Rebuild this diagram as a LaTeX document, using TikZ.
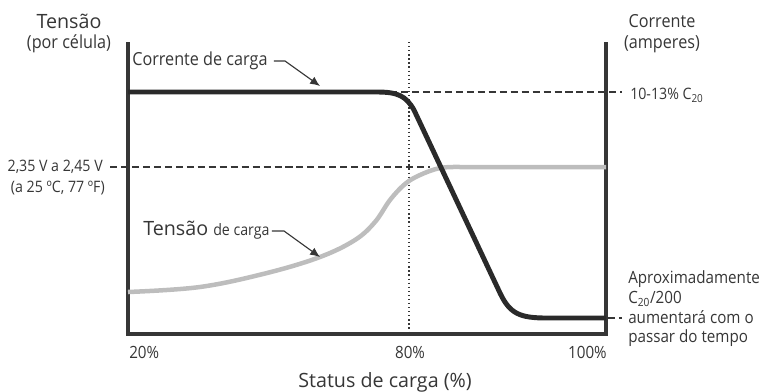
\documentclass[tikz,border=0pt]{standalone}
\usepackage{fontspec}
\setmainfont{Open Sans}[FakeStretch=0.9]
\newfontfamily\widefont{Open Sans}
\usetikzlibrary{arrows.meta,positioning}
\definecolor{ink}{HTML}{363636}
\definecolor{currline}{HTML}{2A2A2A}
\definecolor{voltline}{HTML}{BDBDBD}
\tikzstyle{axis} = [draw=ink, line width=2.4pt]
\tikzstyle{guide} = [draw=ink, line width=1pt, dash pattern=on 5pt off 2.8pt]
\tikzstyle{pointer} = [draw=ink, line width=0.8pt, -{Latex[length=7pt,width=6pt]}]
\tikzstyle{small} = [text=ink, inner sep=0pt, font=\fontsize{11.2}{13.5}\selectfont]
\tikzstyle{tick} = [text=ink, inner sep=0pt, font=\fontsize{12}{14}\selectfont]
\tikzstyle{big} = [text=ink, inner sep=0pt, font=\fontsize{12.8}{15}\selectfont]

\begin{document}
\begin{tikzpicture}[x=0.025cm, y=-0.025cm]
\useasboundingbox (0,0) rectangle (759,391);

%% Axis titles
\node [big] (tensao) at (69,21) {\widefont\fontsize{14}{16}\selectfont Tensão};
\node [big] (porcelula) at (69,44) {(por célula)};
\node [big] (corrente) at (662,21) {Corrente};
\node [big] (amperes) at (662,44) {(amperes)};
\node [big] (status) at (385,382) {\widefont\fontsize{14}{16}\selectfont Status de carga (\%)};

%% Tick labels
\node [tick, anchor=west] (p20) at (129,352) {20\%};
\node [tick] (p80) at (410,352) {80\%};
\node [tick, anchor=east] (p100) at (607,352) {100\%};

%% Side labels
\node [small, anchor=east] (vlim) at (103,167) {2,35 V a 2,45 V};
\node [small, anchor=east] (vtemp) at (105,188) {(a 25 ºC, 77 ºF)};
\node [small, anchor=west] (ihigh) at (630,95) {10-13\% C\textsubscript{20}};
\node [tick, anchor=west, align=left] (ilow) at (628,309)
  {Aproximadamente\\C\textsubscript{20}/200\\aumentará com o\\passar do tempo};

%% Guide lines
\draw [ink, line width=0.9pt, dotted] (409,42) -- (409,334);
\draw [guide] (390,92) -- (622,92);
\draw [guide] (110,167) -- (430,167);
\draw [guide] (608,318) -- (622,318);

%% Axes
\draw [axis] (128,42) -- (128,334) -- (606,334) -- (606,42);

%% Charge voltage
\draw [voltline, line width=3.2pt] plot [smooth, tension=0.6] coordinates
  {(128,292) (200,287) (267,273) (320,257) (355,240) (375,222) (390,200)
   (405,184) (420,175) (440,168) (460,167)} -- (606,167);

%% Charge current
\draw [currline, line width=3.5pt] (128,92) -- (377,92)
  .. controls (398,92) and (406,96) .. (414,110) -- (500,293)
  .. controls (510,314) and (520,318) .. (547,318) -- (606,318);

%% Curve labels with pointers
\node [big, anchor=west] (icarga) at (132,61) {Corrente de carga};
\coordinate (ikink) at (285,61);
\coordinate (itip) at (320,86);
\draw [pointer] (icarga.east) ++(6,0) -- (ikink) -- (itip);

\node [small, anchor=west] (vcarga) at (143,230)
  {\widefont\fontsize{14}{16}\selectfont Tensão \normalfont\fontsize{11.2}{13}\selectfont de carga};
\coordinate (vkink) at (284,231);
\coordinate (vtip) at (320,257);
\draw [pointer] (vcarga.east) ++(2,1) -- (vkink) -- (vtip);
\end{tikzpicture}
\end{document}
